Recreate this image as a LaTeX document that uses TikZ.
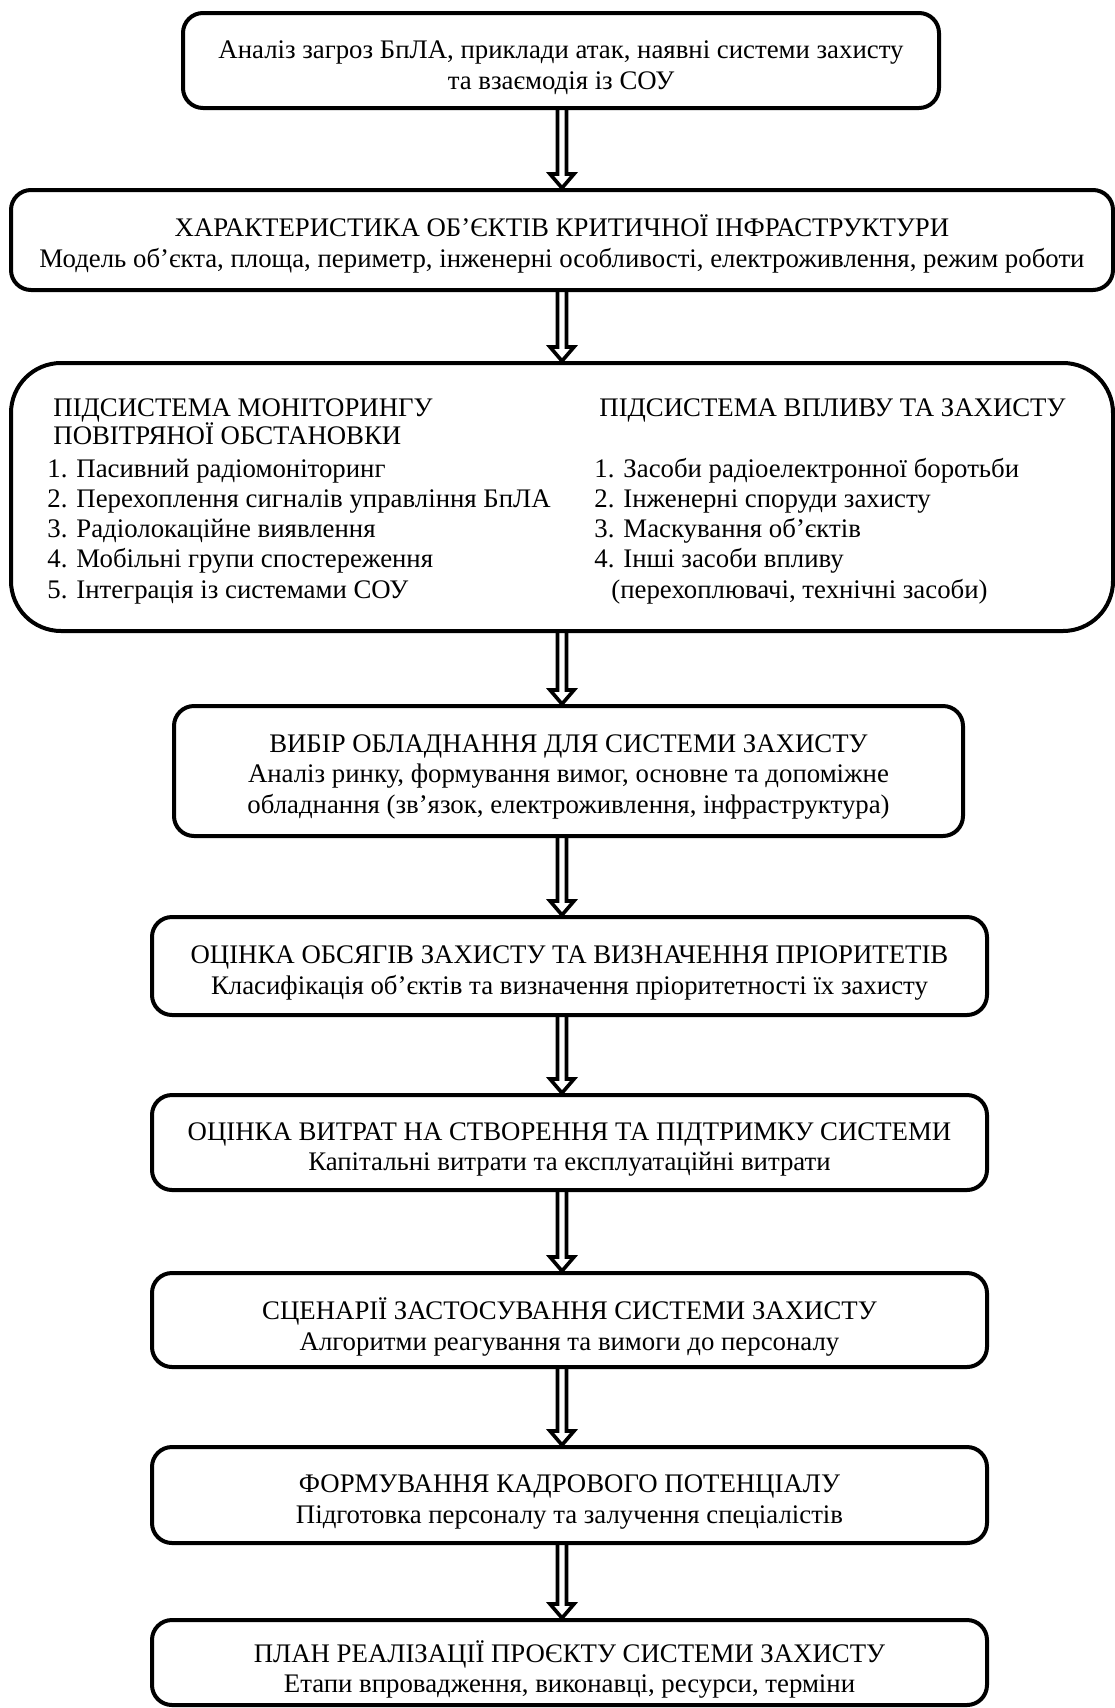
\documentclass[tikz,border=0pt]{standalone}
\usepackage{fontspec}
\setmainfont{Liberation Serif}
\usetikzlibrary{calc}

\begin{document}
\begin{tikzpicture}[
  x=0.5pt, y=-0.5pt,
  font=\fontsize{13.4}{15.25}\selectfont,
  blk/.style={draw=black, line width=2pt, rounded corners=10pt, inner sep=0pt},
  bigblk/.style={draw=black, line width=2pt, rounded corners=25pt, inner sep=0pt},
  txt/.style={align=center, inner sep=0pt},
  ln/.style={anchor=base west, inner sep=0pt},
  arr/.style={draw=black, line width=1.8pt, line join=miter}
]
\useasboundingbox (0,0) rectangle (1114,1708);
\coordinate (axis) at (562,0);

% blocks
\node[blk, minimum width=378pt, minimum height=47.5pt] (b1) at (561,60.5) {};
\node[blk, minimum width=551pt, minimum height=50pt] (b2) at (562,240) {};
\node[bigblk, minimum width=551pt, minimum height=134pt] (b3) at (562,497) {};
\node[blk, minimum width=394.5pt, minimum height=65pt] (b4) at (568.5,771) {};
\node[blk, minimum width=417.5pt, minimum height=49pt] (b5) at (569.5,966) {};
\node[blk, minimum width=417.5pt, minimum height=47.5pt] (b6) at (569.5,1142.5) {};
\node[blk, minimum width=417.5pt, minimum height=47pt] (b7) at (569.5,1320) {};
\node[blk, minimum width=417.5pt, minimum height=48pt] (b8) at (569.5,1495) {};
\node[blk, minimum width=417.5pt, minimum height=42.5pt] (b9) at (569.5,1662.5) {};

% block texts
\node[txt] (t1) at ($(b1.center)+(0,7)$)
  {Аналіз загроз БпЛА, приклади атак, наявні системи захисту\\та взаємодія із СОУ};
\node[txt] (t2) at ($(b2.center)+(0,4)$)
  {ХАРАКТЕРИСТИКА ОБ’ЄКТІВ КРИТИЧНОЇ ІНФРАСТРУКТУРИ\\Модель об’єкта, площа, периметр, інженерні особливості, електроживлення, режим роботи};
\node[txt] (t4) at ($(b4.center)+(0,6)$)
  {ВИБІР ОБЛАДНАННЯ ДЛЯ СИСТЕМИ ЗАХИСТУ\\Аналіз ринку, формування вимог, основне та допоміжне\\обладнання (зв’язок, електроживлення, інфраструктура)};
\node[txt] (t5) at ($(b5.center)+(0,7)$)
  {ОЦІНКА ОБСЯГІВ ЗАХИСТУ ТА ВИЗНАЧЕННЯ ПРІОРИТЕТІВ\\Класифікація об’єктів та визначення пріоритетності їх захисту};
\node[txt] (t6) at ($(b6.center)+(0,7)$)
  {ОЦІНКА ВИТРАТ НА СТВОРЕННЯ ТА ПІДТРИМКУ СИСТЕМИ\\Капітальні витрати та експлуатаційні витрати};
\node[txt] (t7) at ($(b7.center)+(0,7)$)
  {СЦЕНАРІЇ ЗАСТОСУВАННЯ СИСТЕМИ ЗАХИСТУ\\Алгоритми реагування та вимоги до персоналу};
\node[txt] (t8) at ($(b8.center)+(0,7)$)
  {ФОРМУВАННЯ КАДРОВОГО ПОТЕНЦІАЛУ\\Підготовка персоналу та залучення спеціалістів};
\node[txt] (t9) at ($(b9.center)+(0,7)$)
  {ПЛАН РЕАЛІЗАЦІЇ ПРОЄКТУ СИСТЕМИ ЗАХИСТУ\\Етапи впровадження, виконавці, ресурси, терміни};

% subsystems inside the big block
\node[ln] (mont1) at (53,416) {ПІДСИСТЕМА МОНІТОРИНГУ};
\node[ln] (mont2) at (53,444) {ПОВІТРЯНОЇ ОБСТАНОВКИ};
\foreach \txt [count=\i] in {1. Пасивний радіомоніторинг,
    2. Перехоплення сигналів управління БпЛА,
    3. Радіолокаційне виявлення,
    4. Мобільні групи спостереження,
    5. Інтеграція із системами СОУ}
  \node[ln] (mon\i) at (47,{477+30.25*(\i-1)}) {\txt};
\node[ln] (vplt) at (599,416) {ПІДСИСТЕМА ВПЛИВУ ТА ЗАХИСТУ};
\foreach \txt [count=\i] in {1. Засоби радіоелектронної боротьби,
    2. Інженерні споруди захисту,
    3. Маскування об’єктів,
    4. Інші засоби впливу}
  \node[ln] (vpl\i) at (594,{477+30.25*(\i-1)}) {\txt};
\node[ln] (vpl5) at (611,598) {(перехоплювачі, технічні засоби)};

% hollow arrows
\foreach \a/\b in {b1/b2,b2/b3,b3/b4,b4/b5,b5/b6,b6/b7,b7/b8,b8/b9}
  \draw[arr] ($(\a.south -| axis)+(-4.5,0)$) -- ($(\b.north -| axis)+(-4.5,-14)$)
    -- ++(-7.5,0) -- (\b.north -| axis) -- ++(12,-14) -- ++(-7.5,0)
    -- ($(\a.south -| axis)+(4.5,0)$);
\end{tikzpicture}
\end{document}
